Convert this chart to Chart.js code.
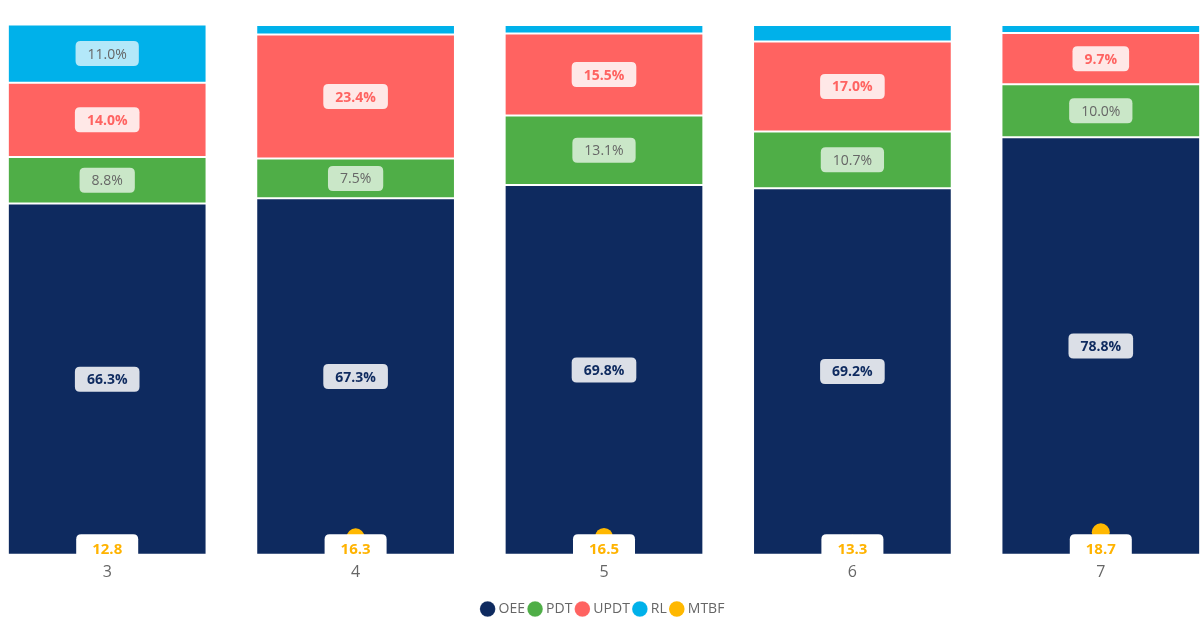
<!DOCTYPE html>
<html>
<head>
<meta charset="utf-8">
<script src="https://cdn.jsdelivr.net/npm/chart.js@4/dist/chart.umd.min.js"></script>
<style>
  html, body { margin: 0; padding: 0; background: #fff; overflow: hidden; }
  #wrap { position: absolute; left: -26px; top: 0; width: 1260px; height: 626px; }
</style>
</head>
<body>
<div id="wrap"><canvas id="chart"></canvas></div>
<script>
const categories = ['3', '4', '5', '6', '7'];
const oee  = [66.3, 67.3, 69.8, 69.2, 78.8];
const pdt  = [8.8, 7.5, 13.1, 10.7, 10.0];
const updt = [14.0, 23.4, 15.5, 17.0, 9.7];
const rl   = [11.0, 1.8, 1.6, 3.1, 1.5];
const mtbf = [12.8, 16.3, 16.5, 13.3, 18.7];

const FONT = "'Open Sans', 'Noto Sans', sans-serif";

// label style per series: text colour, box colour, bold
const labelStyles = {
    OEE:  { color: '#0e2a5f', bg: 'rgba(255,255,255,0.85)', bold: true },
    PDT:  { color: '#666666', bg: 'rgba(255,255,255,0.7)', bold: false },
    UPDT: { color: '#ff6361', bg: 'rgba(255,255,255,0.85)', bold: true },
    RL:   { color: '#666666', bg: 'rgba(255,255,255,0.7)', bold: false },
    MTBF: { color: '#ffb300', bg: '#ffffff', bold: true }
};

function roundRect(ctx, x, y, w, h, r) {
    ctx.beginPath();
    ctx.moveTo(x + r, y);
    ctx.lineTo(x + w - r, y);
    ctx.quadraticCurveTo(x + w, y, x + w, y + r);
    ctx.lineTo(x + w, y + h - r);
    ctx.quadraticCurveTo(x + w, y + h, x + w - r, y + h);
    ctx.lineTo(x + r, y + h);
    ctx.quadraticCurveTo(x, y + h, x, y + h - r);
    ctx.lineTo(x, y + r);
    ctx.quadraticCurveTo(x, y, x + r, y);
    ctx.closePath();
}

const boxLabels = {
    id: 'boxLabels',
    afterDatasetsDraw(chart) {
        const ctx = chart.ctx;
        const area = chart.chartArea;
        ctx.save();
        ctx.textAlign = 'center';
        ctx.textBaseline = 'middle';
        chart.data.datasets.forEach((ds, di) => {
            const meta = chart.getDatasetMeta(di);
            if (meta.hidden) return;
            const st = labelStyles[ds.label];
            meta.data.forEach((el, i) => {
                const v = ds.data[i];
                let text, cx, cy, bh = 25, pad = 24, size = 14;
                if (ds.type === 'line') {
                    // MTBF values sit in a white tab at the foot of each bar
                    text = v.toFixed(1);
                    cx = el.x;
                    cy = area.bottom - 6.5;
                    bh = 28;
                    pad = 32;
                    size = 15;
                } else {
                    const h = Math.abs(el.base - el.y);
                    if (h < 28) return;
                    text = v.toFixed(1) + '%';
                    cx = el.x;
                    cy = (el.y + el.base) / 2;
                }
                ctx.font = (st.bold ? 'bold ' : '') + size + 'px ' + FONT;
                const tw = ctx.measureText(text).width;
                const bw = tw + pad;
                ctx.fillStyle = st.bg;
                roundRect(ctx, cx - bw / 2, cy - bh / 2, bw, bh, 5);
                ctx.fill();
                ctx.fillStyle = st.color;
                ctx.fillText(text, cx, cy + 1);
            });
        });
        ctx.restore();
    }
};

function barSet(label, data, color) {
    return {
        type: 'bar',
        label: label,
        data: data,
        backgroundColor: color,
        borderColor: 'rgba(255,255,255,0.12)',
        borderWidth: 1,
        borderSkipped: false,
        barPercentage: 0.8,
        categoryPercentage: 1.0,
        yAxisID: 'y',
        order: 1
    };
}

new Chart(document.getElementById('chart'), {
    data: {
        labels: categories,
        datasets: [
            barSet('OEE', oee, '#0e2a5f'),
            barSet('PDT', pdt, '#4fae47'),
            barSet('UPDT', updt, '#ff6361'),
            barSet('RL', rl, '#00b1ea'),
            {
                type: 'line',
                label: 'MTBF',
                data: mtbf,
                showLine: false,
                borderColor: '#ffb800',
                backgroundColor: '#ffb800',
                pointRadius: 9,
                pointHoverRadius: 9,
                pointBorderWidth: 0,
                yAxisID: 'y1',
                order: 0
            }
        ]
    },
    options: {
        responsive: true,
        maintainAspectRatio: false,
        animation: false,
        layout: { padding: { top: 25, left: 0, right: 0, bottom: 0 } },
        scales: {
            x: {
                stacked: true,
                grid: { display: false },
                border: { display: false },
                ticks: { color: '#666', font: { family: FONT, size: 16 }, padding: 0 },
                afterFit(scale) { scale.height += 14; }
            },
            y: { stacked: true, min: 0, max: 100, display: false },
            y1: { min: 8, max: 260, display: false }
        },
        plugins: {
            tooltip: { enabled: false },
            legend: {
                position: 'bottom',
                labels: {
                    usePointStyle: true,
                    pointStyle: 'circle',
                    boxWidth: 8,
                    boxHeight: 11,
                    padding: 6,
                    color: '#666',
                    font: { family: FONT, size: 14 },
                    sort: (a, b) => a.datasetIndex - b.datasetIndex
                }
            }
        }
    },
    plugins: [boxLabels]
});
</script>
</body>
</html>
